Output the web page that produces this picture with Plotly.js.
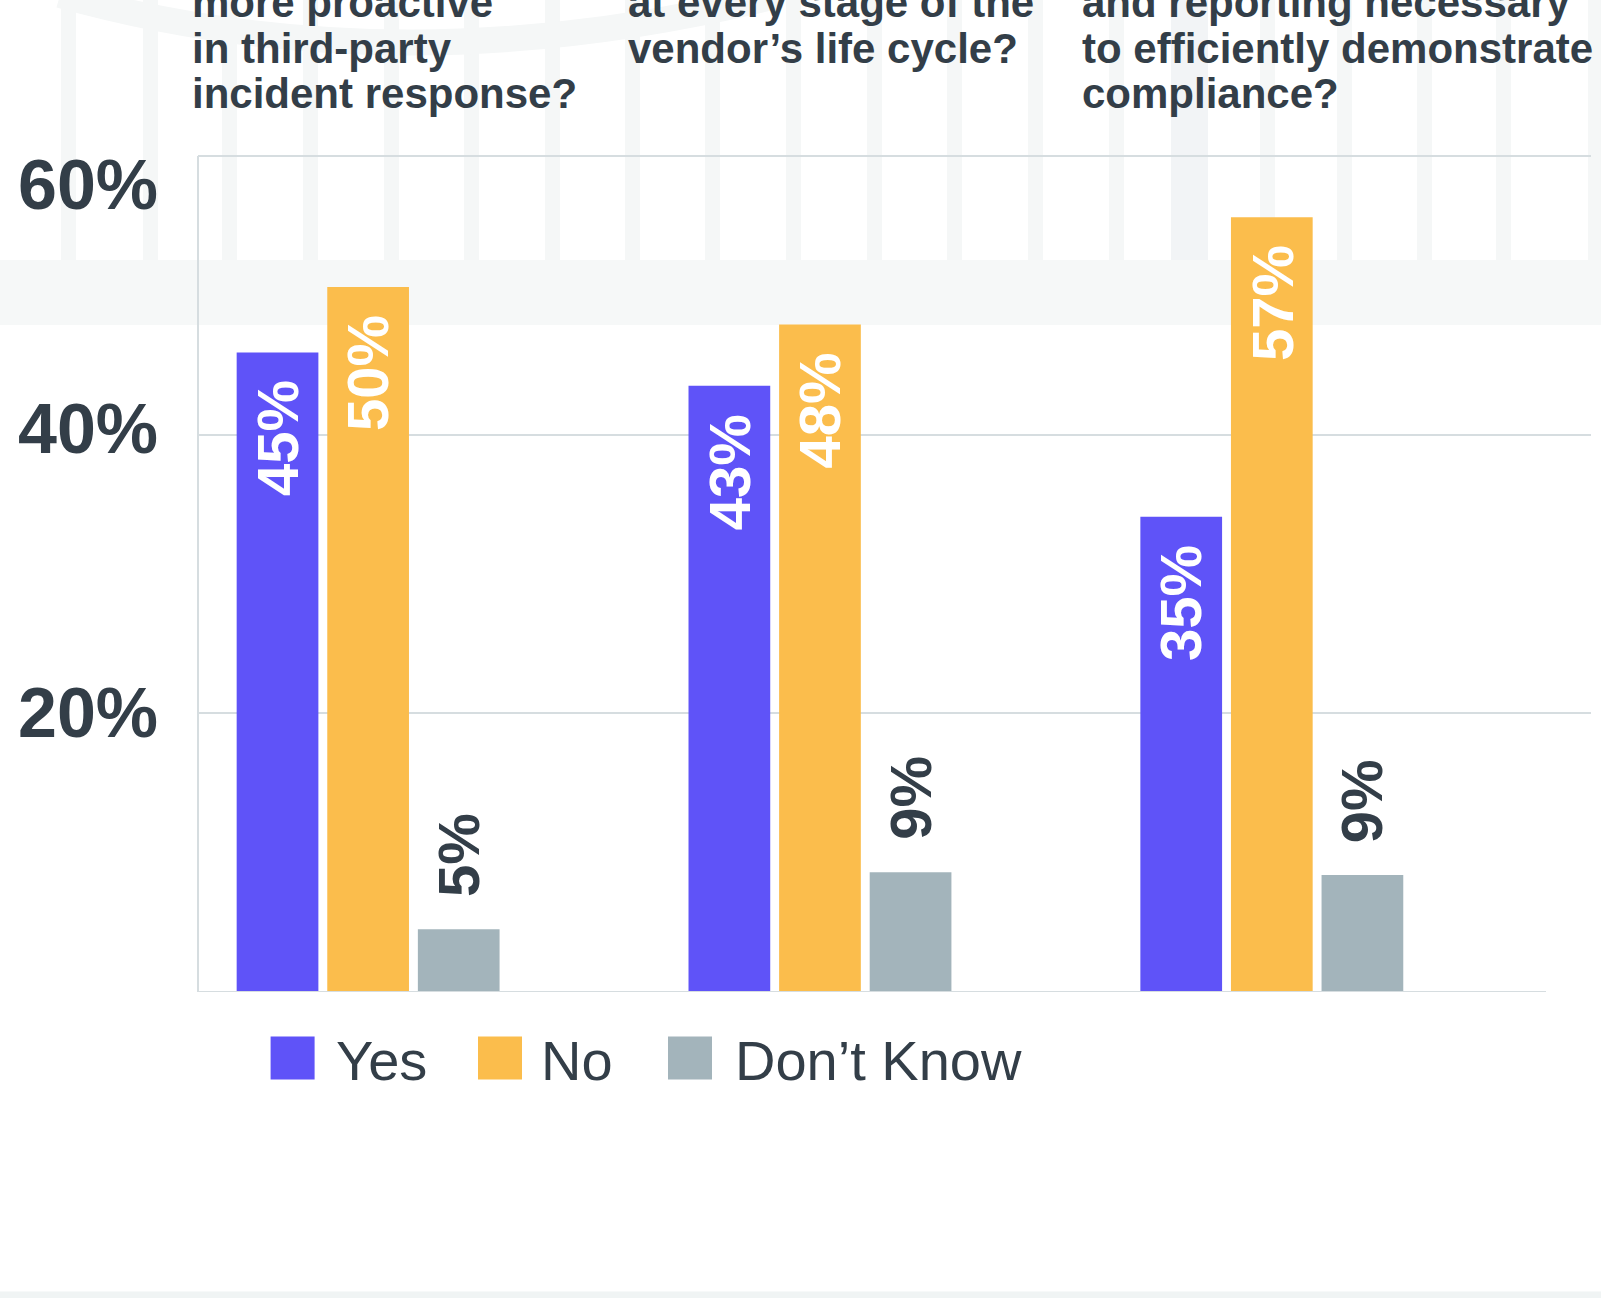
<!DOCTYPE html>
<html>
<head>
<meta charset="utf-8">
<script src="https://cdn.plot.ly/plotly-3.0.1.min.js"></script>
<style>
  html, body { margin: 0; padding: 0; background: #ffffff; }
  #chart { width: 1601px; height: 1298px; }
</style>
</head>
<body>
<div id="chart"></div>
<script>
// ---------------- DATA ----------------
const questionLines = [
  ['more proactive', 'in third-party', 'incident response?'],
  ['at every stage of the', 'vendor\u2019s life cycle?'],
  ['and reporting necessary', 'to efficiently demonstrate', 'compliance?']
];
const categories = questionLines.map(l => l.join(' '));
const seriesNames = ['Yes', 'No', 'Don\u2019t Know'];
const yesValues = [45.9, 43.5, 34.1];
const noValues = [50.6, 47.9, 55.6];
const dontKnowValues = [4.5, 8.6, 8.4];
const yesLabels = ['45%', '43%', '35%'];
const noLabels = ['50%', '48%', '57%'];
const dontKnowLabels = ['5%', '9%', '9%'];
const yTickVals = [20, 40, 60];
const yTickText = ['20%', '40%', '60%'];

// ---------------- STYLE ----------------
const W = 1601, H = 1298;
const PL = 198, PR = 1591, PT = 142, PB = 992;
const DARK = '#333e48';
const GRID = '#d6dde0';
const colors = ['#5f53f8', '#fbbd4c', '#a3b4bb'];
const FONT = 'Liberation Sans, Arial, Helvetica, sans-serif';
const xRange = [-0.3765, 2.7064];
const bargap = 0.3985, bargroupgap = 0.098;

const px2x = p => (p - PL) / (PR - PL);
const px2y = p => (PB - p) / (PB - PT);

const values = [yesValues, noValues, dontKnowValues];
const labels = [yesLabels, noLabels, dontKnowLabels];

const traces = seriesNames.map((name, s) => ({
  type: 'bar',
  name: name,
  x: categories,
  y: values[s],
  marker: { color: colors[s], line: { width: 0 } },
  hoverinfo: 'skip',
  showlegend: false
}));

const shapes = [];
const annotations = [];

// decorative background: faint stripes, band, arch, bottom strip
const stripes = [[61,15],[143,15],[222,15],[303,15],[384,15],[464,15],[545,15],[625,15],[705,15],[786,15],[867,15],[947,15],[1028,15],[1109,15],[1171,37],[1260,15],[1337,15],[1417,15],[1496,15],[1588,15]];
stripes.forEach(([x, w]) => {
  shapes.push({ type: 'rect', layer: 'below', xref: 'paper', yref: 'paper',
    x0: px2x(x), x1: px2x(x + w), y0: px2y(260), y1: px2y(0),
    fillcolor: w > 20 ? '#f2f4f6' : '#f5f7f7', line: { width: 0 } });
});
shapes.push({ type: 'rect', layer: 'below', xref: 'paper', yref: 'paper',
  x0: px2x(0), x1: px2x(W), y0: px2y(325), y1: px2y(260),
  fillcolor: '#f6f8f8', line: { width: 0 } });
shapes.push({ type: 'path', layer: 'below', xref: 'paper', yref: 'paper',
  path: 'M ' + px2x(60) + ',' + px2y(-5) + ' Q ' + px2x(400) + ',' + px2y(90) + ' ' + px2x(780) + ',' + px2y(-5),
  line: { color: '#f5f7f7', width: 26 } });
shapes.push({ type: 'rect', layer: 'below', xref: 'paper', yref: 'paper',
  x0: px2x(0), x1: px2x(W), y0: px2y(H), y1: px2y(1291.5),
  fillcolor: '#f0f4f4', line: { width: 0 } });

// axis lines
shapes.push({ type: 'line', xref: 'paper', yref: 'y', x0: 0, x1: 0, y0: 0, y1: 60,
  line: { color: GRID, width: 2 } });
shapes.push({ type: 'line', xref: 'paper', yref: 'y', x0: 0, x1: px2x(1546), y0: 0, y1: 0,
  line: { color: GRID, width: 2 } });

// y tick labels
const tickShift = [0, 6, -29];
yTickVals.forEach((v, i) => {
  annotations.push({ xref: 'paper', yref: 'y', x: 0, y: v, xanchor: 'right', yanchor: 'middle',
    xshift: -38, yshift: tickShift[i], text: yTickText[i], showarrow: false,
    font: { family: FONT, size: 70, color: DARK, weight: 'bold' } });
});

// bar value labels
const groupPx = (PR - PL) / (xRange[1] - xRange[0]);
const slotPx = groupPx * (1 - bargap) / seriesNames.length;
values.forEach((vals, s) => {
  vals.forEach((v, i) => {
    const inside = s < 2;
    annotations.push({ xref: 'x', yref: 'y', x: i, y: v,
      xshift: (s - 1) * slotPx,
      yshift: inside ? -26 : 30,
      xanchor: 'center', yanchor: inside ? 'top' : 'bottom',
      textangle: -90, text: labels[s][i], showarrow: false,
      font: { family: FONT, size: 58, color: inside ? '#ffffff' : DARK, weight: 'bold' } });
  });
});

// question titles (partially cropped at top)
const titleLeft = [190, 626, 1080];
questionLines.forEach((lines, q) => {
  lines.forEach((line, k) => {
    const baseline = 17 + 45.5 * k;
    annotations.push({ xref: 'paper', yref: 'paper', x: px2x(titleLeft[q]), y: px2y(baseline - 14.5),
      xanchor: 'left', yanchor: 'middle', text: line, showarrow: false,
      font: { family: FONT, size: 42, color: DARK, weight: 'bold' } });
  });
});

// legend
const legSquareX = [270.6, 478, 668];
const legTextX = [336, 541, 735];
seriesNames.forEach((name, s) => {
  shapes.push({ type: 'rect', xref: 'paper', yref: 'paper',
    x0: px2x(legSquareX[s]), x1: px2x(legSquareX[s] + 44),
    y0: px2y(1079.5), y1: px2y(1036.5),
    fillcolor: colors[s], line: { width: 0 } });
  annotations.push({ xref: 'paper', yref: 'paper', x: px2x(legTextX[s] - 2), y: px2y(1060.5),
    xanchor: 'left', yanchor: 'middle', text: name, showarrow: false,
    font: { family: FONT, size: 56, color: DARK } });
});

const layout = {
  width: W, height: H, autosize: false,
  margin: { l: PL, r: W - PR, t: PT, b: H - PB, pad: 0 },
  paper_bgcolor: '#ffffff',
  plot_bgcolor: 'rgba(0,0,0,0)',
  barmode: 'group',
  bargap: bargap,
  bargroupgap: bargroupgap,
  showlegend: false,
  xaxis: { type: 'category', range: xRange, showgrid: false, zeroline: false,
    showline: false, showticklabels: false, ticks: '', fixedrange: true },
  yaxis: { range: [0, 61], tickvals: yTickVals, showticklabels: false, ticks: '',
    showgrid: true, gridcolor: GRID, gridwidth: 2, zeroline: false, showline: false, fixedrange: true },
  shapes: shapes,
  annotations: annotations
};

Plotly.newPlot('chart', traces, layout, { displayModeBar: false, staticPlot: true });
</script>
</body>
</html>
